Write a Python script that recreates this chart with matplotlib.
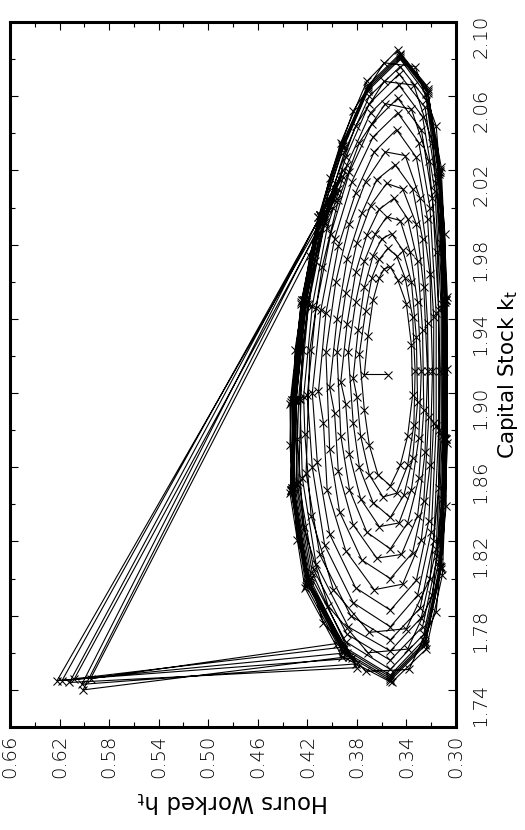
import matplotlib
matplotlib.use("Agg")
import matplotlib.pyplot as plt
from matplotlib.ticker import FixedLocator, MultipleLocator, FormatStrFormatter

# hours worked h_t and capital stock k_t
start_h = [0.355]
start_k = [1.910]

# inner spiral, one row per turn: left side going up, over the top,
# down the right side, round the bottom
ring_h = [
    [0.374, 0.371, 0.367, 0.362, 0.358, 0.353, 0.347, 0.340, 0.336, 0.335, 0.339, 0.345, 0.353, 0.363, 0.370, 0.374],
    [0.378, 0.373, 0.368, 0.362, 0.355, 0.348, 0.341, 0.335, 0.333, 0.334, 0.339, 0.348, 0.359, 0.370, 0.377, 0.380],
    [0.383, 0.379, 0.374, 0.367, 0.360, 0.352, 0.343, 0.336, 0.332, 0.331, 0.335, 0.342, 0.353, 0.367, 0.378, 0.383],
    [0.387, 0.381, 0.374, 0.365, 0.356, 0.345, 0.337, 0.331, 0.328, 0.330, 0.336, 0.346, 0.362, 0.377, 0.386, 0.389],
    [0.393, 0.388, 0.381, 0.372, 0.362, 0.350, 0.339, 0.331, 0.327, 0.326, 0.330, 0.339, 0.353, 0.372, 0.386, 0.393],
    [0.396, 0.389, 0.380, 0.369, 0.356, 0.343, 0.332, 0.326, 0.323, 0.325, 0.331, 0.344, 0.364, 0.383, 0.395, 0.398],
    [0.402, 0.396, 0.388, 0.376, 0.364, 0.349, 0.335, 0.327, 0.323, 0.322, 0.326, 0.335, 0.353, 0.376, 0.394, 0.402],
    [0.405, 0.397, 0.386, 0.373, 0.357, 0.341, 0.329, 0.321, 0.319, 0.321, 0.328, 0.343, 0.366, 0.389, 0.404, 0.407],
]
ring_k = [
    [1.910, 1.931, 1.950, 1.962, 1.967, 1.968, 1.961, 1.948, 1.926, 1.899, 1.877, 1.861, 1.850, 1.856, 1.872, 1.891],
    [1.921, 1.944, 1.962, 1.972, 1.978, 1.974, 1.962, 1.941, 1.912, 1.883, 1.861, 1.846, 1.844, 1.856, 1.877, 1.898],
    [1.908, 1.934, 1.957, 1.974, 1.983, 1.986, 1.977, 1.960, 1.930, 1.895, 1.865, 1.845, 1.833, 1.841, 1.860, 1.884],
    [1.922, 1.949, 1.971, 1.986, 1.995, 1.993, 1.976, 1.949, 1.912, 1.876, 1.848, 1.830, 1.828, 1.843, 1.867, 1.894],
    [1.906, 1.937, 1.965, 1.985, 1.999, 2.005, 1.994, 1.971, 1.934, 1.891, 1.854, 1.830, 1.816, 1.825, 1.848, 1.877],
    [1.922, 1.954, 1.981, 2.001, 2.013, 2.010, 1.991, 1.957, 1.912, 1.868, 1.834, 1.813, 1.811, 1.829, 1.858, 1.889],
    [1.903, 1.940, 1.972, 1.997, 2.015, 2.023, 2.010, 1.983, 1.938, 1.887, 1.842, 1.814, 1.800, 1.810, 1.836, 1.870],
    [1.922, 1.960, 1.991, 2.014, 2.030, 2.028, 2.005, 1.964, 1.912, 1.861, 1.821, 1.797, 1.794, 1.815, 1.848, 1.884],
]

# dense outer band, same layout
band_h = [
    [0.411, 0.405, 0.395, 0.381, 0.366, 0.348, 0.332, 0.323, 0.318, 0.318, 0.322, 0.332, 0.353, 0.381, 0.402, 0.412],
    [0.416, 0.409, 0.398, 0.384, 0.367, 0.347, 0.330, 0.321, 0.316, 0.316, 0.320, 0.331, 0.353, 0.383, 0.406, 0.416],
    [0.420, 0.413, 0.401, 0.386, 0.368, 0.347, 0.328, 0.319, 0.314, 0.314, 0.318, 0.329, 0.353, 0.385, 0.410, 0.421],
    [0.418, 0.408, 0.395, 0.378, 0.357, 0.336, 0.322, 0.315, 0.313, 0.314, 0.321, 0.340, 0.370, 0.399, 0.417, 0.422],
    [0.423, 0.416, 0.404, 0.388, 0.369, 0.346, 0.327, 0.317, 0.312, 0.312, 0.316, 0.328, 0.353, 0.387, 0.413, 0.424],
    [0.426, 0.419, 0.406, 0.389, 0.370, 0.346, 0.325, 0.316, 0.311, 0.311, 0.315, 0.327, 0.353, 0.388, 0.415, 0.427],
    [0.424, 0.414, 0.399, 0.381, 0.358, 0.334, 0.319, 0.312, 0.310, 0.311, 0.319, 0.339, 0.371, 0.403, 0.423, 0.428],
    [0.429, 0.421, 0.407, 0.390, 0.370, 0.345, 0.324, 0.315, 0.310, 0.310, 0.314, 0.326, 0.353, 0.389, 0.417, 0.429],
    [0.430, 0.422, 0.409, 0.391, 0.371, 0.345, 0.324, 0.314, 0.309, 0.309, 0.313, 0.326, 0.353, 0.390, 0.419, 0.431],
    [0.431, 0.423, 0.409, 0.391, 0.371, 0.345, 0.323, 0.314, 0.309, 0.309, 0.313, 0.325, 0.353, 0.390, 0.419, 0.432],
    [0.431, 0.423, 0.410, 0.392, 0.371, 0.345, 0.323, 0.313, 0.308, 0.308, 0.312, 0.325, 0.353, 0.391, 0.420, 0.432],
    [0.432, 0.424, 0.410, 0.392, 0.371, 0.345, 0.323, 0.313, 0.308, 0.308, 0.312, 0.325, 0.353, 0.391, 0.420, 0.433],
    [0.430, 0.418, 0.402, 0.383, 0.358, 0.333, 0.316, 0.309, 0.307, 0.308, 0.316, 0.338, 0.373, 0.407, 0.428, 0.434],
    [0.434, 0.425, 0.411, 0.393, 0.372, 0.347, 0.324, 0.312, 0.307, 0.307, 0.311, 0.324, 0.352, 0.392, 0.422, 0.434],
]
band_k = [
    [1.901, 1.943, 1.979, 2.008, 2.030, 2.042, 2.027, 1.994, 1.941, 1.884, 1.831, 1.799, 1.783, 1.795, 1.824, 1.863],
    [1.900, 1.945, 1.983, 2.014, 2.038, 2.051, 2.035, 2.000, 1.943, 1.882, 1.825, 1.791, 1.774, 1.787, 1.818, 1.860],
    [1.899, 1.946, 1.986, 2.019, 2.045, 2.059, 2.042, 2.005, 1.945, 1.880, 1.820, 1.784, 1.767, 1.780, 1.813, 1.857],
    [1.923, 1.968, 2.004, 2.035, 2.056, 2.053, 2.025, 1.976, 1.912, 1.849, 1.800, 1.773, 1.771, 1.794, 1.834, 1.878],
    [1.898, 1.947, 1.989, 2.023, 2.051, 2.066, 2.049, 2.009, 1.946, 1.879, 1.816, 1.779, 1.761, 1.774, 1.808, 1.854],
    [1.897, 1.948, 1.991, 2.027, 2.056, 2.072, 2.054, 2.013, 1.948, 1.877, 1.812, 1.774, 1.756, 1.770, 1.805, 1.852],
    [1.923, 1.971, 2.011, 2.044, 2.068, 2.066, 2.035, 1.981, 1.912, 1.843, 1.791, 1.762, 1.760, 1.785, 1.828, 1.875],
    [1.897, 1.949, 1.993, 2.030, 2.060, 2.076, 2.058, 2.016, 1.949, 1.876, 1.809, 1.770, 1.751, 1.766, 1.801, 1.851],
    [1.896, 1.949, 1.995, 2.032, 2.063, 2.080, 2.061, 2.018, 1.949, 1.876, 1.807, 1.767, 1.748, 1.763, 1.799, 1.849],
    [1.896, 1.950, 1.995, 2.033, 2.064, 2.081, 2.062, 2.019, 1.950, 1.875, 1.806, 1.766, 1.747, 1.762, 1.799, 1.849],
    [1.896, 1.950, 1.996, 2.033, 2.065, 2.082, 2.063, 2.019, 1.950, 1.875, 1.806, 1.765, 1.746, 1.761, 1.798, 1.848],
    [1.896, 1.950, 1.996, 2.034, 2.066, 2.083, 2.064, 2.020, 1.950, 1.875, 1.805, 1.764, 1.745, 1.760, 1.797, 1.848],
    [1.923, 1.974, 2.016, 2.052, 2.078, 2.076, 2.044, 1.986, 1.913, 1.839, 1.782, 1.751, 1.750, 1.776, 1.821, 1.872],
    [1.894, 1.948, 1.995, 2.035, 2.068, 2.085, 2.066, 2.022, 1.952, 1.873, 1.802, 1.762, 1.744, 1.758, 1.795, 1.846],
]

# the last seven band turns break off to the far left: start of the turn,
# where it leaves, the far point, where it comes back, end of the turn
cut_head_h = [[0.427, 0.420, 0.406], [0.429, 0.421, 0.408], [0.431, 0.423, 0.409], [0.432, 0.424, 0.410],
              [0.431, 0.423, 0.410], [0.433, 0.425, 0.411], [0.430, 0.422, 0.409]]
cut_head_k = [[1.897, 1.948, 1.992], [1.896, 1.949, 1.994], [1.896, 1.950, 1.995], [1.896, 1.950, 1.996],
              [1.896, 1.950, 1.996], [1.895, 1.949, 1.995], [1.896, 1.949, 1.995]]
leave_h = [0.396, 0.393, 0.398, 0.391, 0.395, 0.399, 0.392]
leave_k = [2.008, 2.015, 2.004, 2.020, 2.010, 2.000, 2.017]
far_h = [0.622, 0.618, 0.608, 0.602, 0.601, 0.595, 0.612]
far_k = [1.745, 1.745, 1.746, 1.743, 1.740, 1.746, 1.744]
back_h = [0.384, 0.388, 0.392, 0.381, 0.386, 0.396, 0.380]
back_k = [1.757, 1.760, 1.763, 1.754, 1.758, 1.765, 1.752]
cut_tail_h = [[0.416, 0.428], [0.418, 0.430], [0.419, 0.432], [0.420, 0.433],
              [0.420, 0.432], [0.421, 0.433], [0.419, 0.431]]
cut_tail_k = [[1.803, 1.851], [1.800, 1.850], [1.799, 1.849], [1.797, 1.848],
              [1.798, 1.848], [1.796, 1.847], [1.799, 1.849]]

h_ticks = [0.30, 0.34, 0.38, 0.42, 0.46, 0.50, 0.54, 0.58, 0.62, 0.66]
k_ticks = [1.74, 1.78, 1.82, 1.86, 1.90, 1.94, 1.98, 2.02, 2.06, 2.10]

# path in time order
h_path = list(start_h)
k_path = list(start_k)
for i in range(len(ring_h)):
    h_path += ring_h[i]
    k_path += ring_k[i]
first_cut = len(band_h) - len(far_h)
for i in range(len(band_h)):
    h_path += band_h[i]
    k_path += band_k[i]
    j = i - first_cut
    if j >= 0:
        h_path += cut_head_h[j] + [leave_h[j], far_h[j], back_h[j]] + cut_tail_h[j]
        k_path += cut_head_k[j] + [leave_k[j], far_k[j], back_k[j]] + cut_tail_k[j]

plt.rcParams['font.family'] = ['DejaVu Sans']
plt.rcParams['font.weight'] = 'ultralight'

fig = plt.figure(figsize=(5.25, 8.3), dpi=100)
ax = fig.add_axes([10 / 525, 103 / 830, 446 / 525, 705 / 830])

ax.plot(h_path, k_path, color='black', linewidth=0.8, marker='x',
        markersize=5.5, markeredgewidth=0.75)

ax.set_xlim(0.66, 0.30)
ax.set_ylim(1.72, 2.10)
ax.xaxis.set_major_locator(FixedLocator(h_ticks))
ax.yaxis.set_major_locator(FixedLocator(k_ticks))
ax.xaxis.set_minor_locator(MultipleLocator(0.02))
ax.yaxis.set_minor_locator(MultipleLocator(0.02))
ax.xaxis.set_major_formatter(FormatStrFormatter('%.2f'))
ax.yaxis.set_major_formatter(FormatStrFormatter('%.2f'))

ax.tick_params(which='both', direction='in', top=True, right=True,
               labelleft=False, labelright=True, width=0.8, labelsize=14)
ax.tick_params(which='major', length=5.5)
ax.tick_params(which='minor', length=3.5)
ax.tick_params(axis='x', which='major', pad=5.5)
ax.tick_params(axis='y', which='major', pad=11)
ax.tick_params(axis='both', labelrotation=90)
for s in ax.spines.values():
    s.set_linewidth(2.2)

ax.set_xlabel('Hours Worked $\\mathregular{h_t}$', fontsize=16.5, rotation=180, labelpad=8)
ax.yaxis.set_label_position('right')
ax.set_ylabel('Capital Stock $\\mathregular{k_t}$', fontsize=15.5, rotation=90, labelpad=4)

fig.savefig('out.png', dpi=100)
